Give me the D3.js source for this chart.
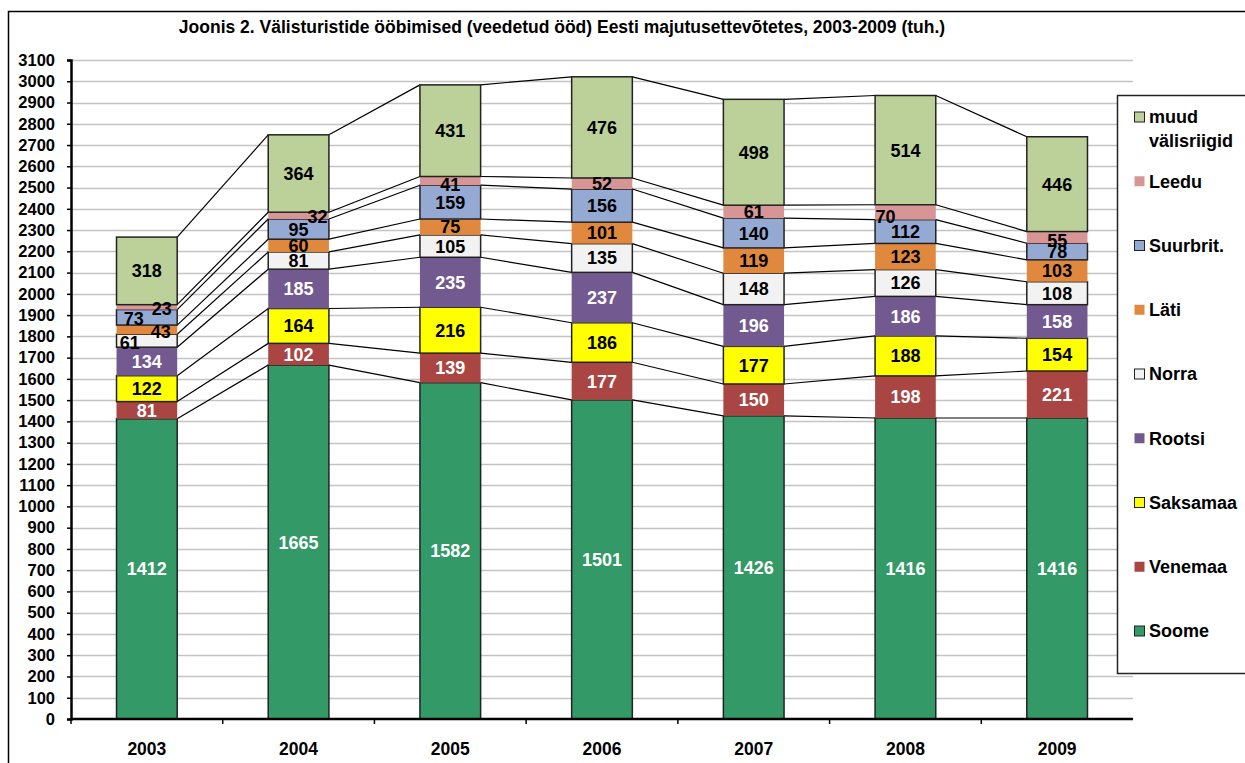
<!DOCTYPE html>
<html>
<head>
<meta charset="utf-8">
<script src="https://cdn.jsdelivr.net/npm/d3@7"></script>
<style>
  body { margin: 0; background: #fff; }
  svg { display: block; font-family: "Liberation Sans", Arial, sans-serif; font-weight: bold; }
</style>
</head>
<body>
<svg id="chart" width="1245" height="763"></svg>
<script>
const years = ["2003", "2004", "2005", "2006", "2007", "2008", "2009"];

const soome = [1412, 1665, 1582, 1501, 1426, 1416, 1416];
const venemaa = [81, 102, 139, 177, 150, 198, 221];
const saksamaa = [122, 164, 216, 186, 177, 188, 154];
const rootsi = [134, 185, 235, 237, 196, 186, 158];
const norra = [61, 81, 105, 135, 148, 126, 108];
const lati = [43, 60, 75, 101, 119, 123, 103];
const suurbrit = [73, 95, 159, 156, 140, 112, 78];
const leedu = [23, 32, 41, 52, 61, 70, 55];
const muud = [318, 364, 431, 476, 498, 514, 446];

const yTicks = d3.range(0, 3101, 100);

// bottom to top
const series = [
    { name: "Soome", values: soome, color: "#339966", outline: true, text: "#fff" },
    { name: "Venemaa", values: venemaa, color: "#A94643", outline: false, text: "#fff" },
    { name: "Saksamaa", values: saksamaa, color: "#FFFF00", outline: true, text: "#000" },
    { name: "Rootsi", values: rootsi, color: "#725A91", outline: false, text: "#fff" },
    { name: "Norra", values: norra, color: "#F2F2F2", outline: true, text: "#000" },
    { name: "Läti", values: lati, color: "#E0883E", outline: false, text: "#000" },
    { name: "Suurbrit.", values: suurbrit, color: "#95AAD3", outline: true, text: "#000" },
    { name: "Leedu", values: leedu, color: "#D79595", outline: false, text: "#000" },
    { name: "muud välisriigid", values: muud, color: "#BBD199", outline: true, text: "#000" }
];

// hand-moved labels on the thin segments (like the original)
const nudge = {
    "Leedu 2003": [15, 1], "Suurbrit. 2003": [-13, 1], "Läti 2003": [14, 2], "Norra 2003": [-17, 2],
    "Leedu 2004": [19, 1], "Leedu 2005": [0, 4], "Leedu 2008": [-20, 4], "Leedu 2009": [0, 3]
};

const svg = d3.select("#chart");

// outer chart border (runs off the picture on the right and bottom)
svg.append("rect")
    .attr("x", 8.5).attr("y", 11.5)
    .attr("width", 1260).attr("height", 780)
    .attr("fill", "none").attr("stroke", "#000").attr("stroke-width", 1.5);

svg.append("text")
    .attr("x", 562).attr("y", 33)
    .attr("text-anchor", "middle")
    .style("font-size", "17.5px")
    .text("Joonis 2. Välisturistide ööbimised (veedetud ööd) Eesti majutusettevõtetes, 2003-2009 (tuh.)");

const plot = { left: 71, right: 1133, top: 60, bottom: 719 };

const x = d3.scaleBand()
    .domain(years)
    .range([plot.left, plot.right])
    .paddingInner(0.6)
    .paddingOuter(0.3);

const y = d3.scaleLinear()
    .domain([0, 3100])
    .range([plot.bottom, plot.top]);

// gridlines
svg.append("g")
    .selectAll("line")
    .data(yTicks.slice(1))
    .join("line")
    .attr("x1", plot.left).attr("x2", plot.right)
    .attr("y1", d => Math.round(y(d)) + 0.5).attr("y2", d => Math.round(y(d)) + 0.5)
    .attr("stroke", "#c4c4c4").attr("stroke-width", 1.5);

// stacking
const stackData = years.map((yr, i) => {
    const row = { year: yr };
    series.forEach(s => row[s.name] = s.values[i]);
    return row;
});
const stacked = d3.stack().keys(series.map(s => s.name))(stackData);

// series lines between bars
const bw = x.bandwidth();
stacked.forEach(layer => {
    for (let i = 0; i < years.length - 1; i++) {
        svg.append("line")
            .attr("x1", x(years[i]) + bw).attr("y1", y(layer[i][1]))
            .attr("x2", x(years[i + 1])).attr("y2", y(layer[i + 1][1]))
            .attr("stroke", "#000").attr("stroke-width", 1.2);
    }
});

// bars
stacked.forEach((layer, k) => {
    const s = series[k];
    svg.append("g")
        .selectAll("rect")
        .data(layer)
        .join("rect")
        .attr("x", d => x(d.data.year))
        .attr("y", d => y(d[1]))
        .attr("width", bw)
        .attr("height", d => y(d[0]) - y(d[1]))
        .attr("fill", s.color)
        .attr("stroke", s.outline ? "#222" : "none")
        .attr("stroke-width", 1.5);
});

// labels
stacked.forEach((layer, k) => {
    const s = series[k];
    const off = d => nudge[s.name + " " + d.data.year] || [0, 0];
    svg.append("g")
        .selectAll("text")
        .data(layer)
        .join("text")
        .attr("x", d => x(d.data.year) + bw / 2 + off(d)[0])
        .attr("y", d => (y(d[0]) + y(d[1])) / 2 + off(d)[1])
        .attr("dy", "0.36em")
        .attr("text-anchor", "middle")
        .attr("fill", s.text)
        .style("font-size", "18px")
        .text(d => d[1] - d[0]);
});

// y axis
const yAxis = svg.append("g")
    .attr("transform", `translate(${plot.left},0)`)
    .call(d3.axisLeft(y).tickValues(yTicks).tickSize(4).tickPadding(12).tickFormat(d3.format("d")));
yAxis.selectAll("text").style("font-size", "16.5px").attr("fill", "#000");
yAxis.select(".domain").attr("stroke-width", 2.5);
yAxis.selectAll(".tick line").attr("stroke-width", 1.5);

// x axis, ticks between categories
const xAxis = svg.append("g")
    .attr("transform", `translate(0,${plot.bottom})`);
xAxis.append("line")
    .attr("x1", plot.left).attr("x2", plot.right)
    .attr("stroke", "#000").attr("stroke-width", 2.5);
xAxis.selectAll(".sep")
    .data(years)
    .join("line")
    .attr("class", "sep")
    .attr("x1", d => x(d) - x.step() * x.paddingInner() / 2)
    .attr("x2", d => x(d) - x.step() * x.paddingInner() / 2)
    .attr("y1", 0).attr("y2", 5)
    .attr("stroke", "#000").attr("stroke-width", 1.5);
xAxis.selectAll(".lab")
    .data(years)
    .join("text")
    .attr("class", "lab")
    .attr("x", d => x(d) + bw / 2)
    .attr("y", 36)
    .attr("text-anchor", "middle")
    .style("font-size", "17.5px")
    .text(d => d);

// legend
const legend = svg.append("g");
legend.append("rect")
    .attr("x", 1117.5).attr("y", 95.5)
    .attr("width", 150).attr("height", 578)
    .attr("fill", "#fff").attr("stroke", "#222").attr("stroke-width", 1.5);

const legendY = d3.scalePoint()
    .domain(series.map(s => s.name).reverse())
    .range([117, 631]);

series.forEach(s => {
    const ly = legendY(s.name);
    legend.append("rect")
        .attr("x", 1134.5).attr("y", ly - 5)
        .attr("width", 10).attr("height", 10)
        .attr("fill", s.color)
        .attr("stroke", s.outline ? "#222" : "none")
        .attr("stroke-width", 1);
    const t = legend.append("text")
        .attr("x", 1149).attr("y", ly)
        .attr("dy", "0.36em")
        .style("font-size", "18px");
    if (s.name === "muud välisriigid") {
        t.append("tspan").attr("x", 1149).text("muud");
        t.append("tspan").attr("x", 1149).attr("dy", "1.3em").text("välisriigid");
    } else {
        t.text(s.name);
    }
});
</script>
</body>
</html>
